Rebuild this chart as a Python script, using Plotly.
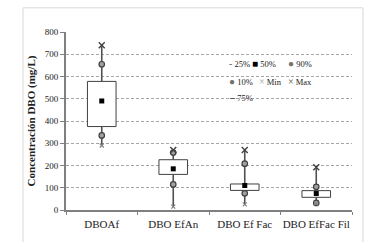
import plotly.graph_objects as go

categories = ["DBOAf", "DBO EfAn", "DBO Ef Fac", "DBO EfFac Fil"]
p_min = [290, 15, 25, 30]
p10 = [335, 115, 75, 32]
p25 = [375, 160, 88, 57]
p50 = [490, 185, 110, 74]
p75 = [578, 226, 117, 87]
p90 = [655, 258, 208, 104]
p_max = [740, 270, 270, 192]
y_ticks = [0, 100, 200, 300, 400, 500, 600, 700, 800]

FONT = "Liberation Serif"
DARK = "#404040"

fig = go.Figure()

# boxes (25%-75%)
fig.add_trace(go.Bar(
    x=categories, y=[q3 - q1 for q1, q3 in zip(p25, p75)], base=p25,
    width=0.4, marker=dict(color="white", line=dict(color=DARK, width=1)),
    showlegend=False, hoverinfo="skip"))

# whiskers
wx, wy = [], []
for c, mn, q1, q3, mx in zip(categories, p_min, p25, p75, p_max):
    wx += [c, c, None, c, c, None]
    wy += [mn, q1, None, q3, mx, None]
fig.add_trace(go.Scatter(x=wx, y=wy, mode="lines",
                         line=dict(color="#505050", width=1.6),
                         showlegend=False, hoverinfo="skip"))

fig.add_trace(go.Scatter(x=categories, y=p90, mode="markers", name="90%",
                         marker=dict(symbol="circle", size=5.5, color="#a0a0a0",
                                     line=dict(color=DARK, width=1.2))))
fig.add_trace(go.Scatter(x=categories, y=p10, mode="markers", name="10%",
                         marker=dict(symbol="circle", size=5.5, color="#a0a0a0",
                                     line=dict(color=DARK, width=1.2))))
fig.add_trace(go.Scatter(x=categories, y=p_max, mode="markers", name="Max",
                         marker=dict(symbol="x-thin-open", size=6, color=DARK,
                                     line=dict(color=DARK, width=1.4))))
fig.add_trace(go.Scatter(x=categories, y=p_min, mode="markers", name="Min",
                         marker=dict(symbol="x-thin-open", size=4, color="#808080",
                                     line=dict(color="#808080", width=1.2))))
fig.add_trace(go.Scatter(x=categories, y=p50, mode="markers", name="50%",
                         marker=dict(symbol="square", size=5, color="black")))

# legend built as text
def px_x(p):
    return (p - 66) / 286

def px_y(p):
    return (216 - p) / 184

def sym(ch, color):
    return f"<span style='color:{color};font-size:10px'>{ch}</span>"

legend_items = [
    (sym("-", "#606060") + " 25%", 227, 65),
    (sym("■", "black") + " 50%", 250, 65),
    (sym("●", "#707070") + " 90%", 286, 65),
    (sym("●", "#707070") + " 10%", 227, 83),
    (sym("×", "#a0a0a0") + " Min", 257, 83),
    (sym("×", "#505050") + " Max", 286, 83),
    (sym("<b>–</b>", "#404040") + " 75%", 227, 100),
]
annotations = []
for txt, x, y in legend_items:
    annotations.append(dict(text=txt, x=px_x(x), y=px_y(y), xref="paper", yref="paper",
                            xanchor="left", yanchor="middle", showarrow=False,
                            font=dict(family=FONT, size=8.5, color="#222")))

shapes = [
    dict(type="rect", xref="paper", yref="paper", x0=px_x(223), x1=px_x(320),
         y0=px_y(109), y1=px_y(57), fillcolor="white", line=dict(width=0), layer="between"),
    dict(type="rect", xref="paper", yref="paper", x0=px_x(23), x1=px_x(363),
         y0=px_y(250), y1=px_y(7), fillcolor="rgba(0,0,0,0)",
         line=dict(color="#d8d8d8", width=1), layer="below"),
]

fig.update_layout(
    width=391, height=242,
    margin=dict(l=66, r=39, t=32, b=26),
    paper_bgcolor="white", plot_bgcolor="white",
    showlegend=False, bargap=0.6,
    font=dict(family=FONT, size=9, color="#222"),
    annotations=annotations, shapes=shapes,
    xaxis=dict(type="category", range=[-0.5, 3.5], tickson="boundaries",
               ticks="outside", ticklen=3, tickcolor="#808080", tickangle=0,
               ticklabelstandoff=3,
               showline=True, linecolor="#808080", linewidth=2,
               showgrid=False, tickfont=dict(family=FONT, size=11, color="#222")),
    yaxis=dict(range=[0, 800], tickvals=y_ticks, ticks="outside", ticklen=4,
               tickcolor="#808080", showline=True, linecolor="#808080", linewidth=2,
               showgrid=True, gridcolor="#a6a6a6", gridwidth=1, griddash="3px,2px",
               zeroline=False, tickfont=dict(family=FONT, size=9, color="#222"),
               title=dict(text="<b>Concentración DBO (mg/L)</b>", standoff=7,
                          font=dict(family=FONT, size=11, color="#222"))),
)

fig.write_html("out.html", config={"displayModeBar": False},
               post_script="document.body.style.margin='0px';document.body.style.overflow='hidden';")
